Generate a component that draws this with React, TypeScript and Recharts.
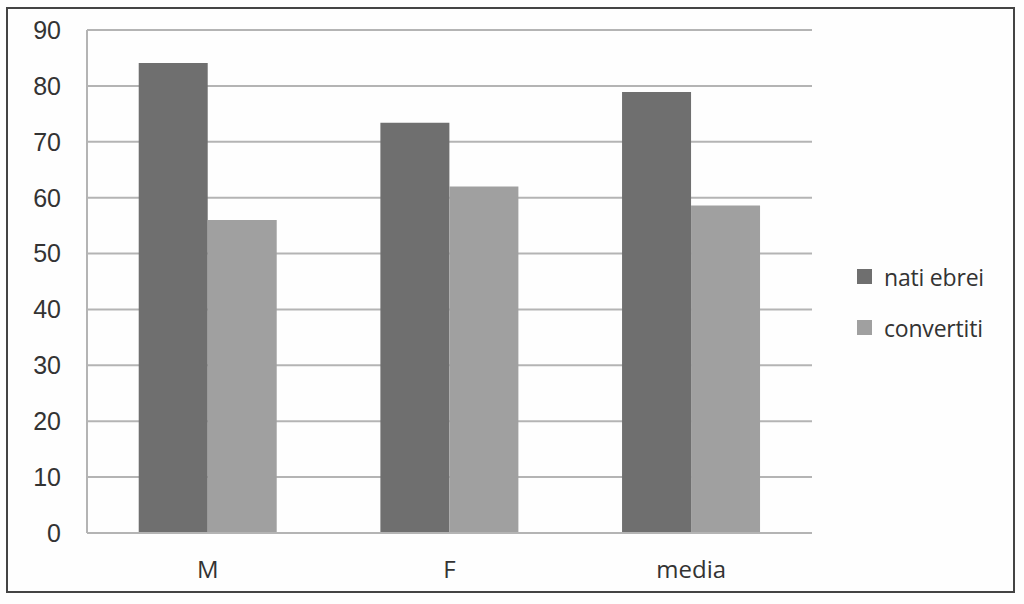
import { BarChart, Bar, XAxis, YAxis, CartesianGrid } from "recharts";

const categories = ["M", "F", "media"];
const natiEbrei = [84.1, 73.4, 78.9];
const convertiti = [56.0, 62.0, 58.6];
const yTicks = [0, 10, 20, 30, 40, 50, 60, 70, 80, 90];

const seriesNames = ["nati ebrei", "convertiti"];
const seriesColors = ["#6f6f6f", "#a0a0a0"];

const data = categories.map((c, i) => ({
  name: c,
  nati: natiEbrei[i],
  conv: convertiti[i],
}));

export default function App() {
  return (
    <div style={{ position: "absolute", left: 0, top: 0, width: 1024, height: 604, background: "#fefefe" }}>
      <div
        style={{
          position: "absolute",
          left: 6,
          top: 7,
          width: 1005,
          height: 582,
          border: "2px solid #444",
        }}
      />
      <BarChart
        width={1024}
        height={604}
        data={data}
        margin={{ top: 30, right: 212, bottom: 0, left: 27 }}
        barCategoryGap="21.4%"
        barGap={0}
      >
        <CartesianGrid vertical={false} stroke="#b4b4b4" strokeWidth={2} />
        <XAxis
          dataKey="name"
          height={71}
          tickLine={false}
          stroke="#b4b4b4"
          strokeWidth={2}
          tickMargin={22}
          tick={{ fill: "#333", fontSize: 24, fontFamily: "'Open Sans', sans-serif" }}
        />
        <YAxis
          width={60}
          domain={[0, 90]}
          ticks={yTicks}
          tickLine={false}
          stroke="#b4b4b4"
          strokeWidth={2}
          tickMargin={20}
          tick={{ fill: "#333", fontSize: 25, fontFamily: "'Liberation Sans', Arial, sans-serif" }}
        />
        <Bar dataKey="nati" fill={seriesColors[0]} isAnimationActive={false} />
        <Bar dataKey="conv" fill={seriesColors[1]} isAnimationActive={false} />
      </BarChart>
      {/* legend */}
      <div
        style={{
          position: "absolute",
          left: 857,
          top: 251,
          fontFamily: "'Open Sans', sans-serif",
          fontSize: 23,
          letterSpacing: -0.2,
          color: "#333",
        }}
      >
        {seriesNames.map((n, i) => (
          <div key={n} style={{ display: "flex", alignItems: "center", height: 51 }}>
            <span style={{ width: 15, height: 15, background: seriesColors[i], marginRight: 12, display: "inline-block" }} />
            <span>{n}</span>
          </div>
        ))}
      </div>
    </div>
  );
}
